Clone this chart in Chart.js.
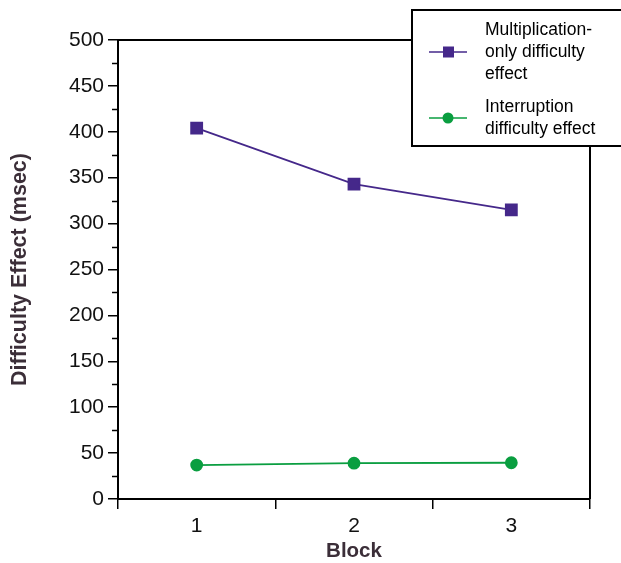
<!DOCTYPE html>
<html><head><meta charset="utf-8">
<script src="https://cdn.jsdelivr.net/npm/chart.js@4"></script>
<style>html,body{margin:0;padding:0;background:#fff}#wrap{width:621px;height:563px}</style>
</head><body><div id="wrap"><canvas id="c" width="621" height="563"></canvas></div>
<script>
const blocks = ['1','2','3'];
const multLabel = ['Multiplication-','only difficulty','effect'];
const multValues = [404, 343, 315];
const interLabel = ['Interruption','difficulty effect'];
const interValues = [37, 39, 39.5];
const yTitle = 'Difficulty Effect (msec)';
const xTitle = 'Block';
const FONT = "'Liberation Sans', Arial, sans-serif";
const PURPLE = '#45288a';
const GREEN = '#0a9e40';

const framePlugin = {
  id: 'frame',
  afterDraw(chart) {
    const ctx = chart.ctx, a = chart.chartArea, y = chart.scales.y;
    ctx.save();
    ctx.strokeStyle = '#000';
    ctx.lineWidth = 2;
    ctx.beginPath();
    ctx.moveTo(a.left, a.top); ctx.lineTo(a.right, a.top); ctx.lineTo(a.right, a.bottom);
    ctx.stroke();
    ctx.lineWidth = 1.5;
    for (let v = 25; v < 500; v += 50) {
      const py = Math.round(y.getPixelForValue(v)) + 0.5;
      ctx.beginPath(); ctx.moveTo(a.left - 6, py); ctx.lineTo(a.left, py); ctx.stroke();
    }
    const bx = 412, by = 10, bw = 214, bh = 136;
    ctx.fillStyle = '#fff';
    ctx.fillRect(bx, by, bw, bh);
    ctx.lineWidth = 2;
    ctx.strokeRect(bx, by, bw, bh);
    ctx.font = '17.5px ' + FONT;
    ctx.textBaseline = 'middle';
    ctx.textAlign = 'left';
    const items = [
      {ds: chart.data.datasets[0], y0: 30, sym: 'rect'},
      {ds: chart.data.datasets[1], y0: 107, sym: 'circle'}
    ];
    items.forEach(it => {
      const lines = it.ds.label;
      const lh = 22;
      const cy = it.y0 + (lines.length - 1) * lh / 2;
      ctx.strokeStyle = it.ds.borderColor; ctx.lineWidth = 1.5;
      ctx.beginPath(); ctx.moveTo(429, cy); ctx.lineTo(467, cy); ctx.stroke();
      ctx.fillStyle = it.ds.borderColor;
      if (it.sym === 'rect') ctx.fillRect(443, cy - 5.5, 11, 11);
      else { ctx.beginPath(); ctx.arc(448, cy, 5.5, 0, Math.PI * 2); ctx.fill(); }
      ctx.fillStyle = '#000';
      lines.forEach((t, i) => ctx.fillText(t, 485, it.y0 + i * lh));
    });
    ctx.restore();
  }
};

new Chart(document.getElementById('c'), {
  type: 'line',
  data: {
    labels: blocks,
    datasets: [
      {label: multLabel, data: multValues, borderColor: PURPLE, backgroundColor: PURPLE,
       borderWidth: 1.8, pointStyle: 'rect', pointRadius: 7.8, pointHoverRadius: 7.8, tension: 0},
      {label: interLabel, data: interValues, borderColor: GREEN, backgroundColor: GREEN,
       borderWidth: 1.8, pointStyle: 'circle', pointRadius: 5.5, pointHoverRadius: 5.5, tension: 0}
    ]
  },
  options: {
    responsive: false,
    animation: false,
    events: [],
    layout: {padding: {top: 40, right: 31, left: 0, bottom: 0}},
    plugins: {legend: {display: false}, tooltip: {enabled: false}},
    scales: {
      x: {
        offset: true,
        grid: {offset: true, drawOnChartArea: false, tickLength: 10, color: '#000', lineWidth: 1.5},
        border: {color: '#000', width: 2},
        ticks: {color: '#111', font: {family: FONT, size: 21}, padding: 5},
        title: {display: true, text: xTitle, color: '#3b2e38', font: {family: FONT, size: 20.5, weight: 'bold'}, padding: {top: 0, bottom: -1}},
        afterFit(s) { s.height = 64; }
      },
      y: {
        min: 0, max: 500,
        grid: {drawOnChartArea: false, tickLength: 10, color: '#000', lineWidth: 1.5},
        border: {color: '#000', width: 2},
        ticks: {stepSize: 50, color: '#111', font: {family: FONT, size: 21}, padding: 4},
        title: {display: true, text: yTitle, color: '#3b2e38', font: {family: FONT, size: 21.5, weight: 'bold'}, padding: {top: 7, bottom: 0}},
        afterFit(s) { s.width = 118; }
      }
    }
  },
  plugins: [framePlugin]
});
</script></body></html>
